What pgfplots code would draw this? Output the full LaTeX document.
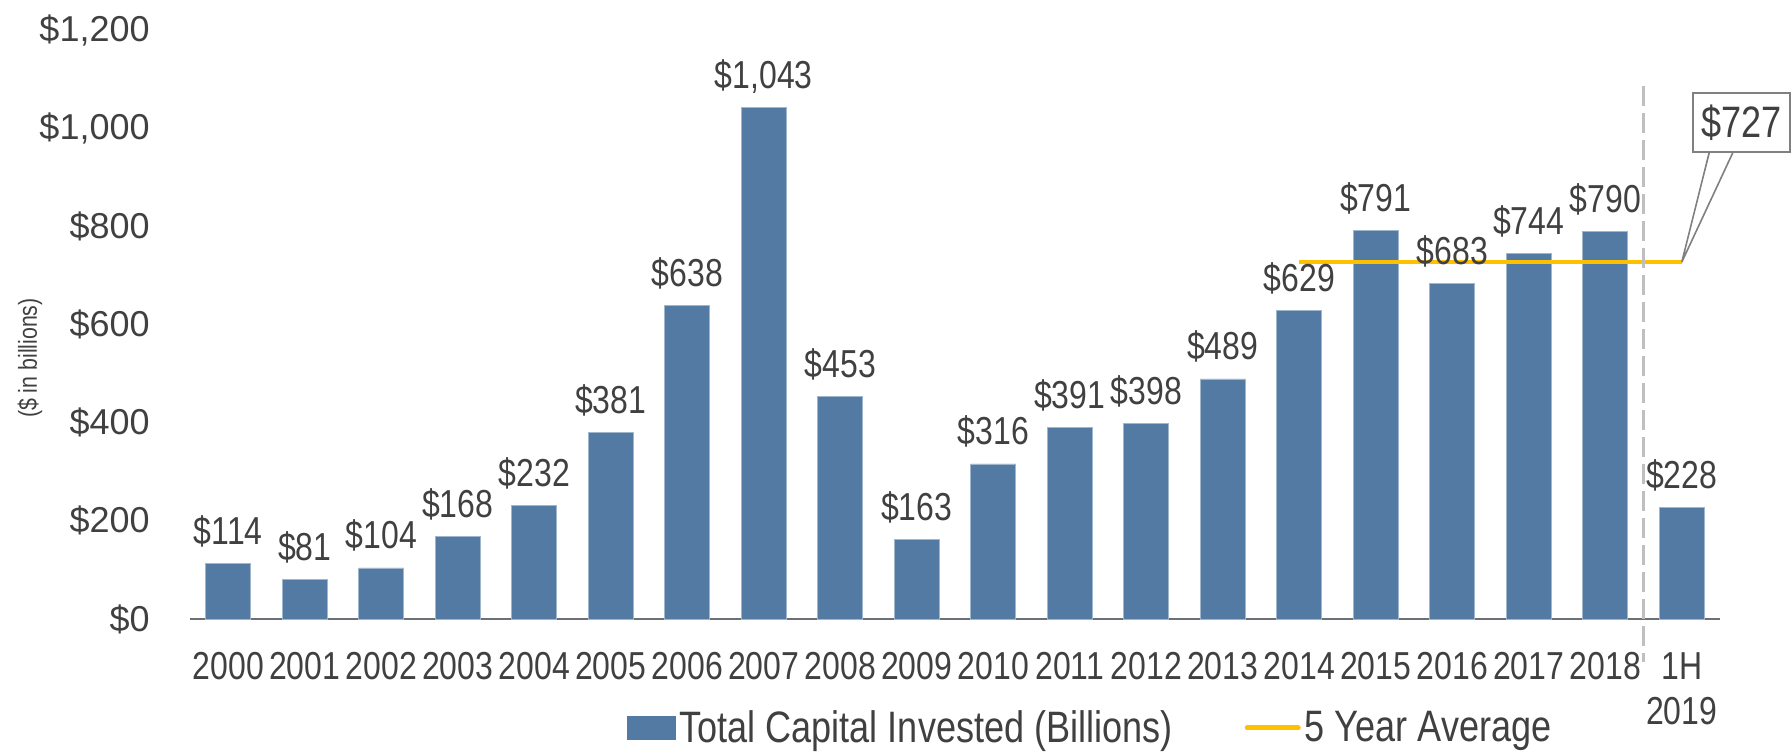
\documentclass[border=0pt]{standalone}
\usepackage{fontspec}
\setmainfont{Liberation Sans}
\newfontfamily\narrowfont[FakeStretch=0.82]{Liberation Sans}
\usepackage{pgfplots}
\pgfplotsset{compat=1.18}
\usepackage{pgfplotstable}
\definecolor{barblue}{RGB}{82,122,163}
\definecolor{avgyellow}{RGB}{255,192,0}
\definecolor{textgray}{RGB}{64,64,64}
\definecolor{axisgray}{RGB}{109,112,117}
\definecolor{dashgray}{RGB}{191,191,191}
\definecolor{callgray}{RGB}{128,128,128}
\pgfplotstableread{
x y lab
0 114 114
1 81 81
2 104 104
3 168 168
4 232 232
5 381 381
6 638 638
7 1043 1,043
8 453 453
9 163 163
10 316 316
11 391 391
12 398 398
13 489 489
14 629 629
15 791 791
16 683 683
17 744 744
18 790 790
19 228 228
}\capdata
\pgfplotstableread{
x y
14 727
19 727
}\avgdata
\begin{document}
\begin{tikzpicture}
\begin{axis}[
  at={(95pt,66.5pt)}, anchor=south west,
  scale only axis, width=765pt, height=294.5pt,
  xmin=-0.5, xmax=19.5, ymin=0, ymax=1200,
  clip=false,
  axis x line=bottom, axis y line=left,
  x axis line style={draw=axisgray, line width=1.25pt, -},
  y axis line style={draw=none},
  major tick length=0pt, tick style={draw=none},
  xtick={0,...,19},
  xticklabels={2000,2001,2002,2003,2004,2005,2006,2007,2008,2009,2010,2011,2012,2013,2014,2015,2016,2017,2018,{1H\\2019}},
  xticklabel style={inner sep=0pt, yshift=-16.5pt, align=center, text=textgray,
    font=\narrowfont\fontsize{19.5}{22.5}\selectfont},
  ytick={0,200,400,600,800,1000,1200},
  yticklabels={\$0,\$200,\$400,\$600,\$800,{\$1,000},{\$1,200}},
  yticklabel style={inner sep=0pt, xshift=-20pt, anchor=east, text=textgray,
    font=\fontsize{18}{20}\selectfont},
  ylabel={(\$ in billions)},
  every axis y label/.style={at={(axis description cs:-0.1046,0.443)}, rotate=90, anchor=center,
    font=\narrowfont\fontsize{13}{15}\selectfont, text=textgray},
  legend columns=2,
  legend style={draw=none, fill=none, at={(axis description cs:0.5876,-0.185)}, anchor=center,
    font=\narrowfont\fontsize{22}{26}\selectfont, text=textgray,
    nodes={inner sep=0pt},
    /tikz/every odd column/.append style={column sep=2pt},
    /tikz/every even column/.append style={column sep=36pt}},
]
\addplot[ybar, bar width=22.5pt, fill=barblue, draw=barblue!55!white, line width=0.4pt,
  point meta=explicit symbolic,
  nodes near coords={\$\pgfplotspointmeta},
  every node near coord/.append style={anchor=base, inner sep=0pt, yshift=9.5pt, text=textgray,
    font=\narrowfont\fontsize{19.5}{22}\selectfont},
  legend image code/.code={\fill[barblue] (0pt,-5.75pt) rectangle (24pt,5.75pt);}
] table[x=x, y=y, meta=lab] {\capdata};
\addlegendentry{Total Capital Invested (Billions)}
\addplot[avgyellow, line width=2.25pt, mark=none,
  legend image code/.code={\draw[avgyellow, line width=2.5pt, line cap=round] (0pt,0pt) -- (25.5pt,0pt);}
] table[x=x, y=y] {\avgdata};
\addlegendentry{5 Year Average}
\draw[dashgray, line width=1.5pt, dash pattern=on 10pt off 3.5pt] (axis cs:18.5,1085) -- (axis cs:18.5,-88);
\draw[callgray, line width=0.8pt, fill=white] (axis cs:19.36,951) -- (axis cs:19,727) -- (axis cs:19.67,951);
\node[draw=callgray, fill=white, line width=0.8pt, minimum width=48.5pt, minimum height=29.5pt, inner sep=0pt,
  text=textgray, font=\narrowfont\fontsize{22}{26}\selectfont] at (axis cs:19.78,1011) {\$727};
\end{axis}
\pgfresetboundingbox
\path[use as bounding box] (0,0) rectangle (895.5pt,376pt);
\end{tikzpicture}
\end{document}
